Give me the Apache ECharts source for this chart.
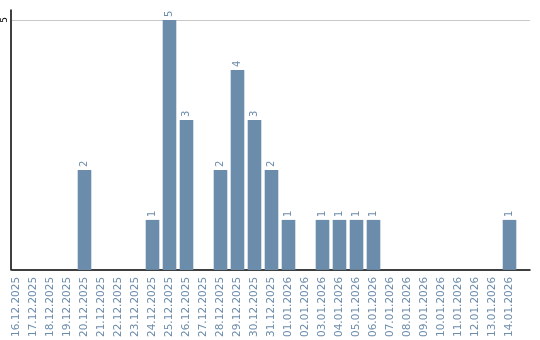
<!DOCTYPE html>
<html><head><meta charset="utf-8">
<script src="https://cdn.jsdelivr.net/npm/echarts@6/dist/echarts.min.js"></script>
<style>html,body{margin:0;padding:0;background:#fff}#c{width:540px;height:340px}</style>
</head><body><div id="c"></div>
<script>
const categories = ["16.12.2025","17.12.2025","18.12.2025","19.12.2025","20.12.2025","21.12.2025","22.12.2025","23.12.2025","24.12.2025","25.12.2025","26.12.2025","27.12.2025","28.12.2025","29.12.2025","30.12.2025","31.12.2025","01.01.2026","02.01.2026","03.01.2026","04.01.2026","05.01.2026","06.01.2026","07.01.2026","08.01.2026","09.01.2026","10.01.2026","11.01.2026","12.01.2026","13.01.2026","14.01.2026"];
const counts = [0,0,0,0,2,0,0,0,1,5,3,0,2,4,3,2,1,0,1,1,1,1,0,0,0,0,0,0,0,1];
const yTicks = [0,5];

const blue = '#6c8cab';
const font = 'DejaVu Sans';
const chart = echarts.init(document.getElementById('c'), null, {renderer:'canvas'});
chart.setOption({
  animation:false,
  backgroundColor:'#fff',
  grid:[
    {left:8, right:22, top:20, bottom:70},
    {left:11, right:10, top:20, bottom:70},
    {left:11, right:10, top:10, bottom:70}
  ],
  xAxis:[
    {gridIndex:0, type:'category', data:categories,
     axisLine:{show:false}, axisTick:{show:false},
     axisLabel:{rotate:90, interval:0, color:blue, fontFamily:font, fontSize:10.5, margin:7}},
    {gridIndex:1, type:'category', data:categories, show:true,
     axisLine:{show:true, lineStyle:{color:'#000', width:1.5}}, axisTick:{show:false}, axisLabel:{show:false}},
    {gridIndex:2, type:'category', data:categories, show:false}
  ],
  yAxis:[
    {gridIndex:0, type:'value', min:0, max:yTicks[1], interval:yTicks[1], show:false, splitLine:{show:false}},
    {gridIndex:1, type:'value', min:0, max:yTicks[1], interval:yTicks[1],
     axisLine:{show:false}, axisTick:{show:false},
     splitLine:{show:true, showMinLine:false, lineStyle:{color:'#c8c8c8', width:1}},
     axisLabel:{rotate:90, margin:3, color:'#000', fontFamily:font, fontSize:9,
       formatter:v=> v===0 ? '' : String(v)}},
    {gridIndex:2, type:'value', min:0, max:5.2, show:true,
     axisLine:{show:true, lineStyle:{color:'#000', width:1.5}}, axisTick:{show:false},
     axisLabel:{show:false}, splitLine:{show:false}}
  ],
  series:[{
    type:'bar', xAxisIndex:0, yAxisIndex:0, data:counts, barWidth:'80%',
    itemStyle:{color:blue},
    label:{show:true, position:'top', rotate:90, align:'left', verticalAlign:'middle', distance:3,
      color:blue, fontFamily:font, fontSize:10,
      formatter:p=> p.value ? String(p.value) : ''}
  }]
});
</script></body></html>
